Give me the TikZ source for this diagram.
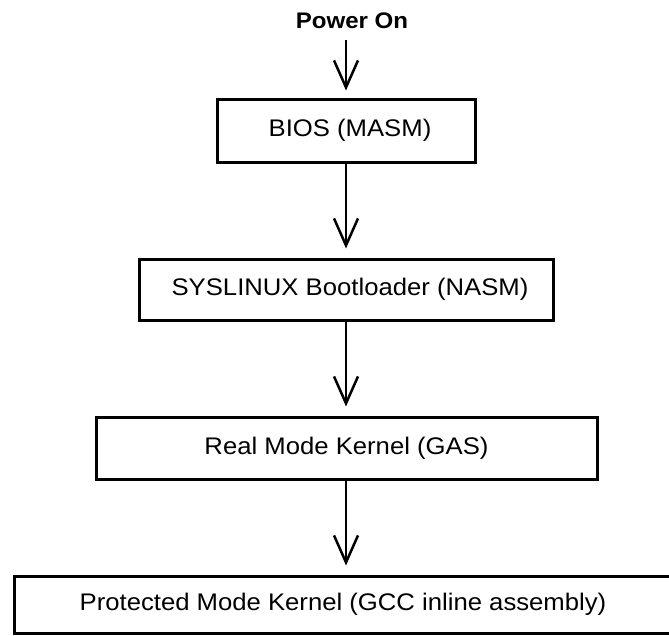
\documentclass[tikz,border=0pt]{standalone}
\usepackage{fontspec}
\setmainfont{Liberation Sans}[FakeStretch=1.07]
\usetikzlibrary{arrows.meta}
\begin{document}
\begin{tikzpicture}[x=1pt,y=-1pt,
  stagebox/.style={draw,line width=3pt,rectangle,inner sep=0pt,
    font=\fontsize{24}{28}\selectfont},
  flowarrow/.style={line width=2.5pt,-{Straight Barb[length=27pt,width=24pt]},shorten >=9pt}]
\useasboundingbox (0,0) rectangle (669,635);
\node[font=\bfseries\fontsize{22.5}{26}\selectfont,inner sep=0pt] (power) at (352,21) {Power On};
\node[stagebox,minimum width=258pt,minimum height=63pt] (bios) at (346,130.5) {\hspace*{8pt}BIOS (MASM)};
\node[stagebox,minimum width=414pt,minimum height=61pt] (sys) at (346,289.5) {\hspace*{8pt}SYSLINUX Bootloader (NASM)};
\node[stagebox,minimum width=501pt,minimum height=62pt] (real) at (346.5,448) {Real Mode Kernel (GAS)};
\node[stagebox,minimum width=658pt,minimum height=57pt] (prot) at (343,604.5) {Protected Mode Kernel (GCC inline assembly)};
\coordinate (pstart) at (346,40);
\draw[flowarrow,shorten >=7pt] (pstart) -- (bios.north);
\draw[flowarrow] (bios.south) -- (sys.north);
\draw[flowarrow] (sys.south) -- (real.north-|sys.south);
\draw[flowarrow] (real.south-|sys.south) -- (prot.north-|sys.south);
\end{tikzpicture}
\end{document}
